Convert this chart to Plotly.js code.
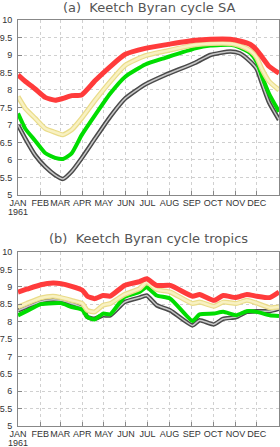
<!DOCTYPE html>
<html><head><meta charset="utf-8">
<script src="https://cdn.plot.ly/plotly-3.0.1.min.js"></script>
<style>html,body{margin:0;padding:0;background:#fff}#c{width:280px;height:447px}</style>
</head><body><div id="c"></div>
<script>
const monthDays = [0,31,59,90,120,151,181,212,243,273,304,334];
const monthLabels = ['JAN','FEB','MAR','APR','MAY','JUN','JUL','AUG','SEP','OCT','NOV','DEC'];
const yearLabel = '1961';
const yTicks = [5,5.5,6,6.5,7,7.5,8,8.5,9,9.5,10];
const yTickText = ['5','5.5','6','6.5','7','7.5','8','8.5','9','9.5','10'];

const daysA = [0,10,24,38,52,63,75,89,108,129,150,178,206,248,269,297,310,325,334,341,351,365];
const redA = [8.43,8.25,8.03,7.79,7.71,7.76,7.84,7.86,8.27,8.67,9.02,9.19,9.29,9.42,9.45,9.45,9.40,9.30,9.14,8.95,8.68,8.48];
const yelA = [7.81,7.48,7.19,6.90,6.79,6.72,6.86,7.19,7.71,8.24,8.71,8.98,9.11,9.29,9.33,9.33,9.27,9.12,8.92,8.60,8.25,8.00];
const grnA = [7.33,6.90,6.55,6.20,6.06,6.03,6.19,6.71,7.29,7.90,8.38,8.73,8.92,9.19,9.27,9.29,9.22,9.05,8.80,8.40,7.90,7.38];
const gryA = [7.00,6.62,6.14,5.81,5.57,5.46,5.67,6.05,6.62,7.24,7.76,8.16,8.43,8.78,9.00,9.10,9.05,8.81,8.60,8.20,7.65,7.15];

const daysB = [0,12,32,49,60,75,90,97,107,119,129,149,170,180,194,213,244,254,274,287,305,320,334,352,365];
const redB = [8.85,8.93,9.06,9.11,9.09,9.01,8.90,8.73,8.66,8.75,8.73,9.04,9.15,9.23,9.04,9.04,8.73,8.78,8.61,8.75,8.69,8.78,8.73,8.69,8.85];
const yelB = [8.42,8.52,8.68,8.73,8.69,8.61,8.52,8.32,8.28,8.47,8.52,8.78,8.95,9.14,8.92,8.85,8.52,8.56,8.44,8.56,8.52,8.61,8.53,8.40,8.42];
const gryB = [8.32,8.42,8.58,8.63,8.61,8.52,8.40,8.13,8.08,8.18,8.18,8.56,8.69,8.75,8.47,8.32,7.89,8.04,7.92,8.08,8.13,8.28,8.30,8.30,8.37];
const grnB = [8.18,8.30,8.50,8.53,8.53,8.42,8.34,8.13,8.06,8.23,8.21,8.71,8.85,8.99,8.75,8.66,8.02,8.21,8.23,8.28,8.18,8.30,8.28,8.18,8.16];

function tr(x,y,color,width,ax){
  return {x:x,y:y,type:'scatter',mode:'lines',xaxis:ax[0],yaxis:ax[1],
    line:{color:color,width:width,shape:'spline',smoothing:0.5},hoverinfo:'skip',showlegend:false};
}
function set(x,g,gr,y,r,ax){
  return [
    tr(x,g,'#4a4a4a',4.5,ax), tr(x,g,'#c8c8c8',1.5,ax),
    tr(x,gr,'#00dd00',4,ax),
    tr(x,y,'#eadc8a',5,ax), tr(x,y,'#f8f1c2',2.5,ax),
    tr(x,r,'#ff3b3b',5,ax)
  ];
}
const data = [].concat(
  set(daysA,gryA,grnA,yelA,redA,['x','y']),
  set(daysB,gryB,grnB,yelB,redB,['x2','y2'])
);
const tickFont = {family:'Liberation Sans Narrow, Liberation Sans, Arial, sans-serif',size:9,color:'#333'};
function xax(anchor){
  return {anchor:anchor,range:[0,365],tickmode:'array',tickvals:monthDays,ticktext:monthLabels,
    ticks:'inside',ticklen:4,tickcolor:'#888',showline:true,linecolor:'#888',linewidth:1,mirror:true,
    showgrid:true,gridcolor:'#d0d0d0',griddash:'dot',gridwidth:1,zeroline:false,tickfont:tickFont,tickangle:0,
    ticklabelstandoff:-1};
}
function yax(anchor,dom){
  return {anchor:anchor,domain:dom,range:[5,10],tickmode:'array',tickvals:yTicks,ticktext:yTickText,
    ticks:'inside',ticklen:4,tickcolor:'#888',showline:true,linecolor:'#888',linewidth:1,mirror:true,
    showgrid:true,gridcolor:'#d0d0d0',griddash:'dot',gridwidth:1,zeroline:false,tickfont:tickFont,ticklabelstandoff:3};
}
const titleFont = {family:'DejaVu Sans, sans-serif',size:13,color:'#555'};
const layout = {
  width:280,height:447,margin:{l:18,r:1,t:20,b:21},paper_bgcolor:'#fff',plot_bgcolor:'#fff',
  xaxis:xax('y'), yaxis:yax('x',[0.569,1]),
  xaxis2:xax('y2'), yaxis2:yax('x2',[0,0.4286]),
  annotations:[
    {text:'(a)  Keetch Byran cycle SA',xref:'paper',yref:'paper',x:0.5,y:1.0296,xanchor:'center',yanchor:'middle',showarrow:false,font:titleFont},
    {text:'(b)  Keetch Byran cycle tropics',xref:'paper',yref:'paper',x:0.5,y:0.4606,xanchor:'center',yanchor:'middle',showarrow:false,font:titleFont},
    {text:yearLabel,xref:'x',yref:'paper',x:monthDays[0],y:0.5271,xanchor:'center',yanchor:'middle',showarrow:false,font:tickFont},
    {text:yearLabel,xref:'x2',yref:'paper',x:monthDays[0],y:-0.0419,xanchor:'center',yanchor:'middle',showarrow:false,font:tickFont}
  ]
};
Plotly.newPlot('c',data,layout,{staticPlot:true,displayModeBar:false});
</script></body></html>
